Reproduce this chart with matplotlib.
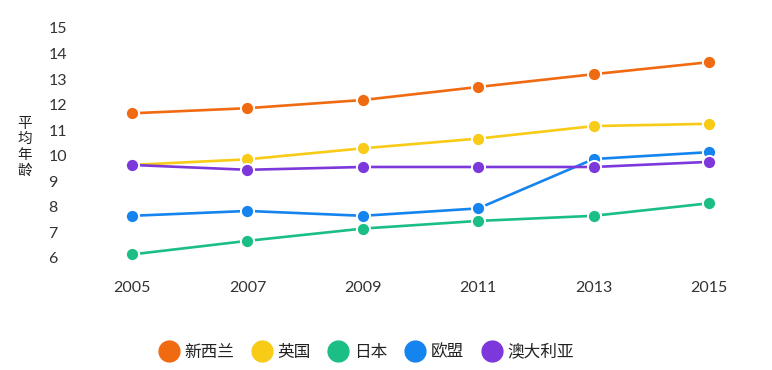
import matplotlib
matplotlib.use("Agg")
import matplotlib.pyplot as plt
from matplotlib.lines import Line2D

plt.rcParams["font.family"] = ["Lato", "Noto Sans CJK SC", "DejaVu Sans"]

years = [2005, 2007, 2009, 2011, 2013, 2015]
series_names = ["新西兰", "英国", "日本", "欧盟", "澳大利亚"]
new_zealand = [11.66, 11.86, 12.18, 12.69, 13.19, 13.66]
uk = [9.64, 9.86, 10.29, 10.67, 11.16, 11.25]
japan = [6.14, 6.67, 7.15, 7.45, 7.65, 8.14]
eu = [7.65, 7.84, 7.65, 7.94, 9.87, 10.14]
australia = [9.64, 9.45, 9.56, 9.56, 9.56, 9.76]
colors = ["#F06A12", "#F8CB17", "#1BBE84", "#1684EF", "#7C38DA"]
y_ticks = list(range(6, 16))

W, H = 772, 370
fig = plt.figure(figsize=(W / 100, H / 100), dpi=100)
ax = fig.add_axes([100 / W, 1 - 270 / H, 640 / W, 250 / H])

values = [new_zealand, uk, japan, eu, australia]
for name, vals, c in zip(series_names, values, colors):
    ax.plot(years, vals, color=c, linewidth=1.9, marker="o", markersize=9.5,
            markeredgecolor="white", markeredgewidth=1.4, label=name,
            solid_capstyle="round")

ax.set_xlim(2004.445, 2015.537)
ax.set_ylim(5.53, 15.31)
ax.set_xticks(years)
ax.set_yticks(y_ticks)
for s in ax.spines.values():
    s.set_visible(False)
ax.tick_params(length=0, labelsize=11.5, labelcolor="#333333")
ax.tick_params(axis="x", pad=8)
ax.tick_params(axis="y", pad=37)
for lbl in ax.get_yticklabels():
    lbl.set_horizontalalignment("left")

fig.text(25 / W, 1 - 147 / H, "平\n均\n年\n龄", ha="center", va="center",
         fontsize=10.5, color="#222222", linespacing=1.15,
         family=["Noto Sans CJK SC", "DejaVu Sans"])

handles = [Line2D([], [], marker="o", linestyle="", color=c, markersize=15)
           for c in colors]
fig.legend(handles, series_names, loc="center", ncol=5,
           bbox_to_anchor=(365 / W, 1 - 352 / H), frameon=False,
           prop={"family": ["Noto Sans CJK SC", "DejaVu Sans"], "size": 12},
           handletextpad=0.2, columnspacing=0.9, handlelength=1.5,
           labelcolor="#222222")

fig.savefig("out.png", dpi=100)
